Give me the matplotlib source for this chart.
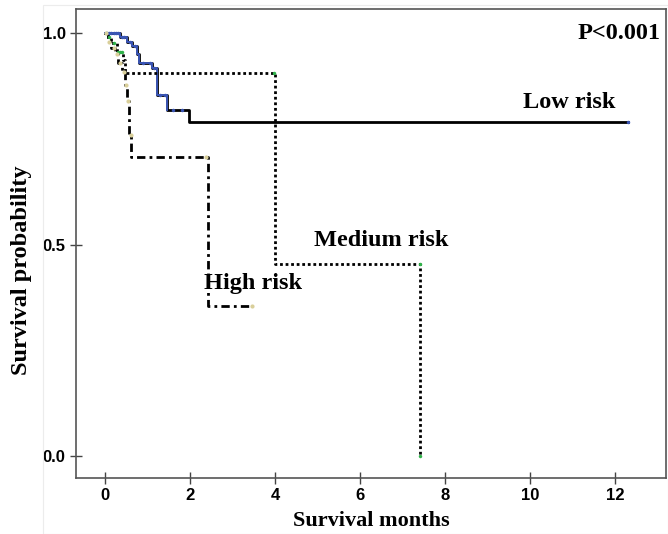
import matplotlib
matplotlib.use("Agg")
import matplotlib.pyplot as plt
from matplotlib.patches import Rectangle

# Kaplan-Meier step points (time in months, survival probability)
low_t = [0, 0.30, 0.35, 0.52, 0.63, 0.75, 0.80, 0.98, 1.10, 1.22, 1.45, 1.97, 12.3]
low_s = [1.0, 1.0, 0.99, 0.98, 0.97, 0.95, 0.93, 0.93, 0.917, 0.853, 0.818, 0.79, 0.79]
low_cens_t = [0.05, 0.1, 0.15, 0.2, 0.25, 0.3, 0.4, 0.45, 0.58, 0.7, 0.9, 1.05, 1.15, 1.3, 1.4, 1.6, 1.8, 12.3]

med_t = [0, 0.08, 0.15, 0.27, 0.43, 0.47, 4.0, 7.42]
med_s = [1.0, 0.99, 0.976, 0.955, 0.936, 0.906, 0.453, 0.0]
med_cens_t = [0.03, 0.1, 0.2, 0.3, 0.35, 0.4, 3.98, 7.4, 7.42]

high_t = [0, 0.06, 0.15, 0.24, 0.31, 0.40, 0.47, 0.52, 0.57, 0.62, 2.42, 3.45]
high_s = [1.0, 0.98, 0.965, 0.95, 0.93, 0.908, 0.877, 0.84, 0.76, 0.707, 0.354, 0.354]
high_cens_t = [0.02, 0.1, 0.2, 0.28, 0.35, 0.44, 0.5, 0.55, 0.6, 2.38, 3.45]

fig = plt.figure(figsize=(6.68, 5.34), dpi=100)
fig.patches.append(Rectangle((0.064, 0.0), 0.936, 0.99, transform=fig.transFigure,
                             fill=False, edgecolor="#ececec", lw=0.8))
ax = fig.add_axes([0.114, 0.105, 0.883, 0.878])


def surv_at(ts, ss, t):
    val = ss[0]
    for ti, si in zip(ts, ss):
        if ti <= t:
            val = si
    return val


ax.step(low_t, low_s, where="post", color="black", lw=2.0, ls="-")
ax.step(low_t[:11], low_s[:11], where="post", color="#3a55b4", lw=1.4, ls="-")
ax.step(med_t, med_s, where="post", color="black", lw=2.0, ls=(0, (1, 1)))
ax.step(high_t, high_s, where="post", color="black", lw=2.0, ls=(0, (3, 1.5, 1, 1.5)))

ax.plot(low_cens_t, [surv_at(low_t, low_s, t) for t in low_cens_t], "o",
        color="#3a55b4", ms=2.5, mec="none")
ax.plot(med_cens_t, [surv_at(med_t, med_s, t) for t in med_cens_t], "o",
        color="#2fb34a", ms=2.5, mec="none")
ax.plot(high_cens_t, [surv_at(high_t, high_s, t) for t in high_cens_t], "o",
        color="#d9cf9a", ms=3, mec="none")

serif = "Liberation Serif"
ax.text(13.08, 1.0, "P<0.001", family=serif, fontweight="bold", fontsize=17.5,
        ha="right", va="center")
ax.text(10.92, 0.837, "Low risk", family=serif, fontweight="bold", fontsize=17.5,
        ha="center", va="center")
ax.text(6.5, 0.51, "Medium risk", family=serif, fontweight="bold", fontsize=17.5,
        ha="center", va="center")
ax.text(3.47, 0.407, "High risk", family=serif, fontweight="bold", fontsize=17.5,
        ha="center", va="center")

ax.set_xlim(-0.68, 13.2)
ax.set_ylim(-0.052, 1.057)
ax.set_xticks([0, 2, 4, 6, 8, 10, 12])
ax.set_yticks([0.0, 0.5, 1.0])
ax.set_yticklabels(["0.0", "0.5", "1.0"])
for lab in ax.get_xticklabels() + ax.get_yticklabels():
    lab.set_family("Liberation Sans")
    lab.set_fontweight("bold")
    lab.set_fontsize(12)
ax.tick_params(direction="inout", length=8, width=1, color="#444444")
for sp in ax.spines.values():
    sp.set_color("#555555")
    sp.set_linewidth(1.2)

ax.set_xlabel("Survival months", family=serif, fontweight="bold", fontsize=16)
ax.set_ylabel("Survival probability", family=serif, fontweight="bold", fontsize=17.5)
ax.xaxis.set_label_coords(0.5, -0.07)
ax.yaxis.set_label_coords(-0.075, 0.443)

fig.savefig("out.png", dpi=100)
